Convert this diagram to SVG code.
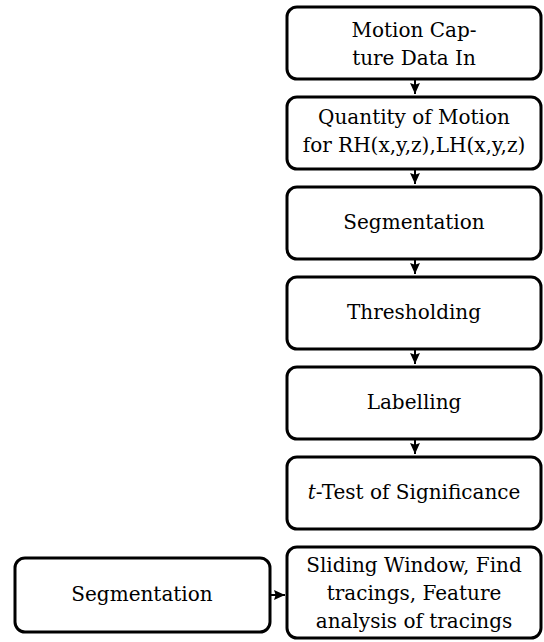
<svg xmlns="http://www.w3.org/2000/svg" width="544" height="642" viewBox="0 0 544 642">
<style>
.box{fill:#fff;stroke:#000;stroke-width:3}
.t{font-family:"DejaVu Serif",serif;font-size:20px;fill:#000;text-anchor:middle}
.c{stroke:#000;stroke-width:2;fill:none}
</style>
<defs>
<marker id="ah" viewBox="0 0 10 9" refX="10" refY="4.5" markerWidth="11" markerHeight="10" orient="auto" markerUnits="userSpaceOnUse">
<path d="M0,0 L10,4.5 L0,9 L1.5,4.5 Z" fill="#000"/>
</marker>
</defs>
<g id="connectors">
<line class="c" x1="415" y1="80" x2="415" y2="94" marker-end="url(#ah)"/>
<line class="c" x1="415" y1="170" x2="415" y2="184" marker-end="url(#ah)"/>
<line class="c" x1="415" y1="260" x2="415" y2="274" marker-end="url(#ah)"/>
<line class="c" x1="415" y1="350" x2="415" y2="364" marker-end="url(#ah)"/>
<line class="c" x1="415" y1="440" x2="415" y2="454" marker-end="url(#ah)"/>
<line class="c" x1="271" y1="595" x2="285" y2="595" marker-end="url(#ah)"/>
</g>
<g id="n1"><rect class="box" x="287" y="7" width="254" height="72" rx="10"/>
<text class="t" x="414" y="37">Motion Cap-</text><text class="t" x="414" y="65">ture Data In</text></g>
<g id="n2"><rect class="box" x="287" y="97" width="254" height="72" rx="10"/>
<text class="t" x="414" y="124">Quantity of Motion</text><text class="t" x="414" y="152">for RH(x,y,z),LH(x,y,z)</text></g>
<g id="n3"><rect class="box" x="287" y="187" width="254" height="72" rx="10"/>
<text class="t" x="414" y="229">Segmentation</text></g>
<g id="n4"><rect class="box" x="287" y="277" width="254" height="72" rx="10"/>
<text class="t" x="414" y="319">Thresholding</text></g>
<g id="n5"><rect class="box" x="287" y="367" width="254" height="72" rx="10"/>
<text class="t" x="414" y="409">Labelling</text></g>
<g id="n6"><rect class="box" x="287" y="457" width="254" height="72" rx="10"/>
<text class="t" x="414" y="499"><tspan font-style="italic">t</tspan>-Test of Significance</text></g>
<g id="n7"><rect class="box" x="287" y="547" width="254" height="91" rx="10"/>
<text class="t" x="414" y="572">Sliding Window, Find</text><text class="t" x="414" y="600">tracings, Feature</text><text class="t" x="414" y="628">analysis of tracings</text></g>
<g id="n8"><rect class="box" x="15" y="558" width="255" height="74" rx="10"/>
<text class="t" x="142" y="601">Segmentation</text></g>
</svg>
